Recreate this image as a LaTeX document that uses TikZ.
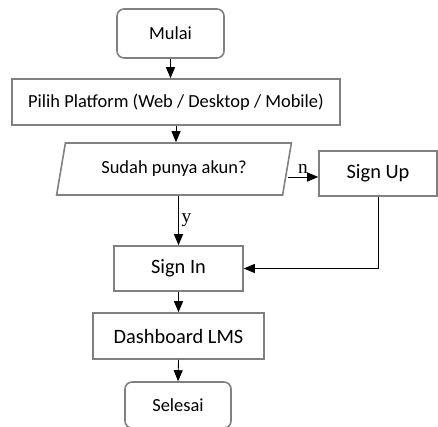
\documentclass[tikz,border=0pt]{standalone}
\usepackage{fontspec}
\setmainfont{Carlito}
\newfontfamily\labelfont{Liberation Serif}
\usetikzlibrary{arrows.meta,shapes.geometric}

\begin{document}
\begin{tikzpicture}[
  proc/.style={draw=black!50,line width=0.9pt,minimum height=9mm,align=center,
               font=\fontsize{11.6}{13}\selectfont},
  term/.style={proc,rounded corners=4pt,minimum height=9.8mm,
               font=\fontsize{10.5}{12}\selectfont},
  io/.style={trapezium,trapezium left angle=77,trapezium right angle=103,
             trapezium stretches=true,draw=black!50,line width=0.9pt,
             minimum width=47.2mm,minimum height=10.4mm,
             font=\fontsize{10.5}{12}\selectfont},
  arr/.style={-{Triangle[length=2.2mm,width=1.8mm]},line width=0.5pt},
  lbl/.style={font=\labelfont\fontsize{11}{12}\selectfont,inner sep=1.5pt}]
\useasboundingbox (0,0) rectangle (8.76,8.52);

% flow boxes
\node[term,minimum width=21.4mm] (mulai) at (3.41,7.85) {Mulai};
\node[proc,minimum width=65.6mm,minimum height=9.2mm,
      font=\fontsize{10.5}{12}\selectfont] (platform) at (3.52,6.48)
      {Pilih Platform (Web / Desktop / Mobile)};
\node[io] (akun) at (3.48,5.14) {Sudah punya akun?};
\node[proc,minimum width=23.6mm] (signup) at (7.56,5.05) {Sign Up};
\node[proc,minimum width=25.8mm] (signin) at (3.57,3.15) {Sign In};
\node[proc,minimum width=34.2mm,minimum height=9.2mm] (dash) at (3.57,1.80)
      {Dashboard LMS};
\node[term,minimum width=21.2mm,minimum height=9.2mm] (selesai) at (3.56,0.42)
      {Selesai};

% arrows
\draw[arr] (mulai.south) -- (mulai.south |- platform.north);
\draw[arr] (platform.south) -- (platform.south |- akun.north);
\draw[arr] ([yshift=-1.6mm]akun.east) -- ([yshift=-1.6mm]akun.east -| signup.west)
   node[lbl,midway,above] {n};
\draw[arr] (signin.north |- akun.south) -- node[lbl,right] {y} (signin.north);
\draw[arr] (signup.south) |- (signin.east);
\draw[arr] (signin.south) -- (dash.north);
\draw[arr] (dash.south) -- (selesai.north);
\end{tikzpicture}
\end{document}
